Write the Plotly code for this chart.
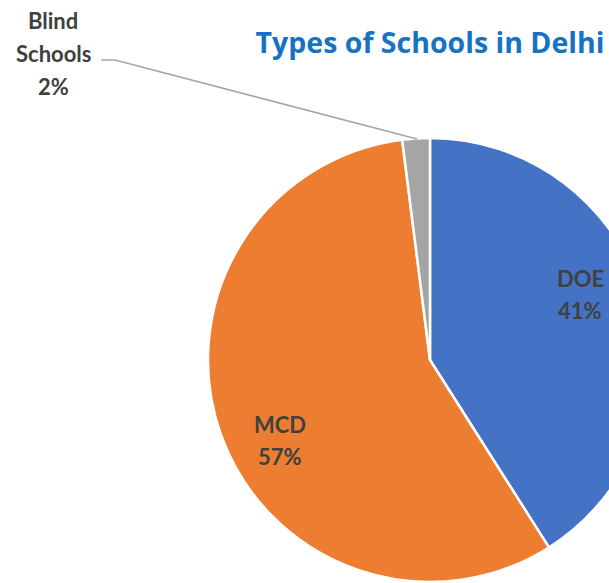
import plotly.graph_objects as go

# ---- data ----
labels = ["DOE", "MCD", "Blind Schools"]
values = [41, 57, 2]
colors = ["#4472C4", "#ED7D31", "#A5A5A5"]
title_text = "Types of Schools in Delhi"

# ---- layout geometry (pixels) ----
W, H = 860, 583
M_T, M_B = 138, 1
plot_h = H - M_T - M_B

def px_x(px):
    return px / W

def px_y(py):
    return (H - M_B - py) / plot_h

total = sum(values)
pct = [f"{round(v / total * 100)}%" for v in values]

fig = go.Figure(go.Pie(
    labels=labels,
    values=values,
    marker=dict(colors=colors, line=dict(color="white", width=2.5)),
    sort=False,
    direction="clockwise",
    rotation=0,
    textinfo="none",
    hoverinfo="label+percent",
    showlegend=False,
))

label_font = dict(family="Lato, Carlito, sans-serif", size=22, color="#404040")
# (center x, y of first line centre) in pixels
label_pos = {"DOE": (580, 278), "MCD": (280, 424), "Blind Schools": (53, 21)}
LINE_GAP = 32.5

for lab, p in zip(labels, pct):
    cx, cy = label_pos[lab]
    lines = lab.split(" ") + [p]
    for i, ln in enumerate(lines):
        fig.add_annotation(
            x=px_x(cx), y=px_y(cy + i * LINE_GAP), xref="paper", yref="paper",
            text="<b>" + ln + "</b>", showarrow=False,
            font=label_font, align="center",
            xanchor="center", yanchor="middle",
        )

# leader line for the small slice label
pts = [(101, 60), (115, 60), (417, 139)]
path = "M " + " L ".join(f"{px_x(x)},{px_y(y)}" for x, y in pts)
fig.add_shape(type="path", path=path, xref="paper", yref="paper",
              line=dict(color="#A5A5A5", width=1.5))

fig.update_layout(
    width=W, height=H,
    margin=dict(l=0, r=0, t=M_T, b=M_B),
    paper_bgcolor="white",
    plot_bgcolor="white",
    title=dict(
        text="<b>" + title_text + "</b>",
        x=0.5, xanchor="center",
        y=1 - 43 / H, yanchor="middle", yref="container",
        font=dict(family="Open Sans, sans-serif", size=28.5, color="#1672C2"),
    ),
)

fig.write_html(
    "out.html",
    post_script="document.documentElement.style.overflow='hidden';document.body.style.overflow='hidden';document.body.style.margin='0';",
)
